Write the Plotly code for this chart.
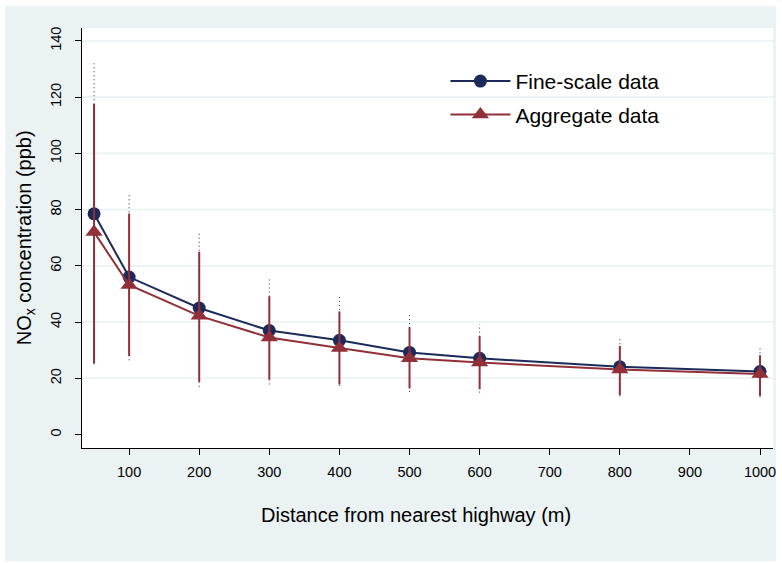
import plotly.graph_objects as go

# ---- data ----
distance = [50, 100, 200, 300, 400, 500, 600, 800, 1000]
fine_mean = [78.5, 56.0, 45.0, 37.0, 33.5, 29.2, 27.1, 24.1, 22.4]
fine_low = [25.0, 26.4, 17.0, 17.8, 17.3, 15.1, 14.9, 13.6, 13.2]
fine_high = [132.0, 85.6, 72.5, 55.7, 49.0, 43.1, 39.2, 34.8, 30.9]
agg_mean = [72.0, 53.2, 42.2, 34.5, 30.8, 27.1, 25.6, 23.1, 21.5]
agg_low = [25.3, 27.9, 18.7, 19.5, 17.8, 16.4, 16.1, 14.0, 13.7]
agg_high = [117.6, 78.6, 65.0, 49.2, 43.8, 38.2, 35.0, 31.5, 28.2]
x_ticks = [100, 200, 300, 400, 500, 600, 700, 800, 900, 1000]
y_ticks = [0, 20, 40, 60, 80, 100, 120, 140]
grid_y = [20, 40, 60, 80, 100, 120, 140]

NAVY = "#1C2A5A"
MAROON = "#913039"
BG = "#EAF2F3"
FONT = "Liberation Sans, Arial, sans-serif"


def spikes(xs, lo, hi):
    sx, sy = [], []
    for x, a, b in zip(xs, lo, hi):
        sx += [x, x, None]
        sy += [a, b, None]
    return sx, sy


fig = go.Figure()

fx, fy = spikes(distance, fine_low, fine_high)
fig.add_trace(go.Scatter(x=fx, y=fy, mode="lines", showlegend=False, hoverinfo="skip",
                         line=dict(color=NAVY, width=1, dash="1px,3px")))
fig.add_trace(go.Scatter(x=distance, y=fine_mean, mode="lines+markers", name="Fine-scale data",
                         legendgroup="a",
                         line=dict(color=NAVY, width=2),
                         marker=dict(symbol="circle", size=13, color=NAVY)))
ax, ay = spikes(distance, agg_low, agg_high)
fig.add_trace(go.Scatter(x=ax, y=ay, mode="lines", showlegend=False, hoverinfo="skip",
                         line=dict(color=MAROON, width=2)))
fig.add_trace(go.Scatter(x=distance, y=agg_mean, mode="lines+markers", name="Aggregate data",
                         legendgroup="b",
                         line=dict(color=MAROON, width=2),
                         marker=dict(symbol="triangle-up", size=15, color=MAROON)))

W, H = 782, 563
L, R, T, B = 82, 6, 28, 114.5
pw = W - L - R
ph = H - T - B

shapes = [
    dict(type="rect", xref="paper", yref="paper", layer="below",
         x0=(5 - L) / pw, x1=(779 - L) / pw, y0=(H - B - 562) / ph, y1=(H - B - 6) / ph,
         fillcolor=BG, line=dict(width=0)),
    dict(type="rect", xref="paper", yref="paper", layer="below",
         x0=0, x1=1, y0=0, y1=1, fillcolor="white", line=dict(width=0)),
]
for g in grid_y:
    shapes.append(dict(type="line", xref="paper", yref="y", layer="below",
                       x0=0, x1=1, y0=g, y1=g, line=dict(color=BG, width=1.6)))

fig.update_layout(
    width=W, height=H,
    margin=dict(l=L, r=R, t=T, b=B, pad=0),
    paper_bgcolor="white", plot_bgcolor="white",
    font=dict(family=FONT, color="black", size=14.5),
    shapes=shapes,
    showlegend=True,
    legend=dict(x=(447 - L) / pw, y=(H - B - 61) / ph, xanchor="left", yanchor="top",
                bgcolor="rgba(0,0,0,0)", font=dict(size=21, family=FONT),
                traceorder="grouped", tracegroupgap=3, itemwidth=60),
    xaxis=dict(range=[32.8, 1018.5], tickmode="array", tickvals=x_ticks,
               ticks="outside", ticklen=6, tickcolor="black", tickwidth=1,
               showline=True, linecolor="black", linewidth=1.2, ticklabelstandoff=4,
               showgrid=False, zeroline=False, tickfont=dict(size=14.5)),
    yaxis=dict(range=[-4.8, 144.6], tickmode="array", tickvals=y_ticks,
               ticks="outside", ticklen=6, tickcolor="black", tickwidth=1,
               showline=True, linecolor="black", linewidth=1.2, ticklabelstandoff=8,
               showgrid=False, zeroline=False, tickangle=-90, tickfont=dict(size=14.5)),
    annotations=[
        dict(text="NO<sub>x</sub> concentration (ppb)", xref="paper", yref="paper",
             x=(25 - L) / pw, y=0.5, xanchor="center", yanchor="middle",
             textangle=-90, showarrow=False, font=dict(size=20, family=FONT)),
        dict(text="Distance from nearest highway (m)", xref="paper", yref="paper",
             x=(417 - L) / pw, y=(H - B - 516) / ph, xanchor="center", yanchor="middle",
             showarrow=False, font=dict(size=20, family=FONT)),
    ],
)

fig.write_html("out.html")
